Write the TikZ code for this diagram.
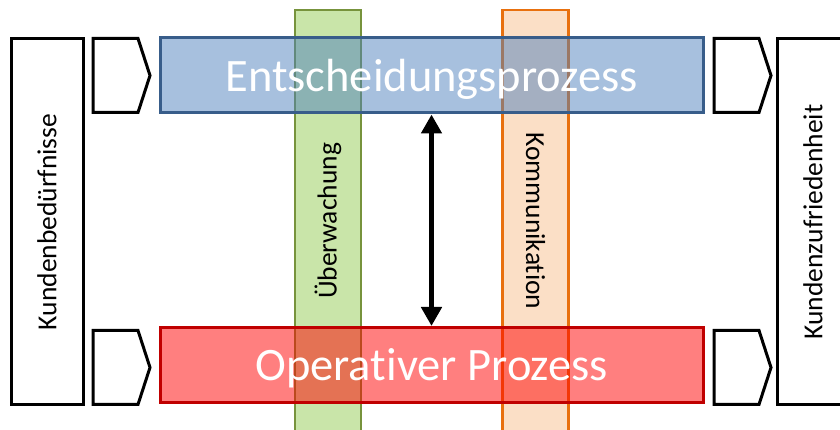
\documentclass[tikz,border=0pt]{standalone}
\usepackage{fontspec}
\setmainfont{Carlito}[Ligatures=NoCommon]
\usepackage{tikz}
\usetikzlibrary{arrows.meta,positioning}

\definecolor{procblue}{HTML}{4F81BD}
\definecolor{procblueline}{HTML}{385D8A}
\definecolor{procred}{HTML}{FF0000}
\definecolor{procredline}{HTML}{C00000}
\definecolor{barlime}{HTML}{C9E5A9}
\definecolor{barlimeline}{HTML}{77933C}
\definecolor{barpeach}{HTML}{FBDFC6}
\definecolor{barpeachline}{HTML}{E8700E}

\begin{document}
\begin{tikzpicture}[x=1pt,y=1pt]
	\useasboundingbox (0,0) rectangle (840,430);
	\begin{scope}[every node/.style={rectangle,line width=2.5pt,minimum width=422pt,minimum height=66pt,font=\fontsize{27.5}{30}\selectfont}]
		\node[draw=barlimeline,fill=barlime,rotate=90] (watch) at (328,209) {Überwachung};
		\node[draw=barpeachline,fill=barpeach,rotate=-90] (talk) at (535.5,209) {Kommunikation};
	\end{scope}

	\begin{scope}[every node/.style={rectangle,line width=3pt,minimum width=543pt,minimum height=75pt,fill opacity=0.5,text opacity=1,text=white,text depth=0pt,font=\fontsize{46.5}{50}\selectfont}]
		\node[draw=procblueline,fill=procblue] (decide) at (431.5,354.5) {Entscheidungsprozess};
		\node[draw=procredline,fill=procred] (operate) at (431.5,65) {Operativer Prozess};
	\end{scope}

	\begin{scope}[every node/.style={rectangle,draw,line width=3pt,rotate=90,minimum width=366pt,minimum height=72pt,font=\fontsize{27.5}{30}\selectfont}]
		\node (needs) at (47,208) {Kundenbedürfnisse};
		\node (happy) at (813,208) {Kundenzufriedenheit};
	\end{scope}

	\foreach \cx in {93,714}
		\foreach \cy in {354.5,62.5}
			\draw[line width=3pt,fill=white] (\cx,\cy+37) -- ++(45,0) -- ++(12,-37) -- ++(-12,-37) -- ++(-45,0) -- cycle;

	\draw[line width=5pt,{Triangle[width=20pt,length=19pt]}-{Triangle[width=20pt,length=19pt]}] (decide.south) -- (operate.north);
\end{tikzpicture}
\end{document}
